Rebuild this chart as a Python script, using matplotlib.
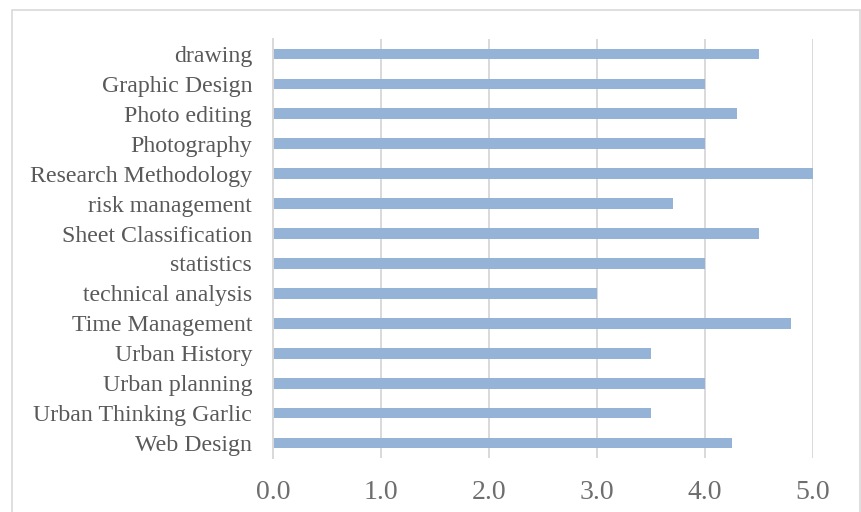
import matplotlib
matplotlib.use("Agg")
import matplotlib.pyplot as plt
from matplotlib.patches import Rectangle

categories = ["drawing", "Graphic Design", "Photo editing", "Photography",
              "Research Methodology", "risk management", "Sheet Classification",
              "statistics", "technical analysis", "Time Management",
              "Urban History", "Urban planning", "Urban Thinking Garlic", "Web Design"]
values = [4.5, 4.0, 4.3, 4.0, 5.0, 3.7, 4.5, 4.0, 3.0, 4.8, 3.5, 4.0, 3.5, 4.25]
xticks = [0, 1, 2, 3, 4, 5]
xtick_labels = ["0.0", "1.0", "2.0", "3.0", "4.0", "5.0"]

W, H = 862, 512
fig = plt.figure(figsize=(W / 100, H / 100), dpi=100)
fig.patch.set_facecolor("white")

# outer chart border
fig.patches.append(Rectangle((12 / W, -0.05), (860 - 12) / W, (H - 10) / H + 0.05,
                             transform=fig.transFigure, fill=False,
                             edgecolor="#D9D9D9", linewidth=1.2))

ax = fig.add_axes([273 / W, 54 / H, 540 / W, 419 / H])
n = len(categories)
ypos = list(range(n))
ax.barh(ypos, values, height=0.36, color="#95B3D6", zorder=3)
ax.set_ylim(n - 0.5, -0.5)
ax.set_xlim(0, 5)

ax.set_yticks(ypos)
ax.set_yticklabels(categories, family="Liberation Serif", fontsize=17.2, color="#595959")
ax.set_xticks(xticks)
ax.set_xticklabels(xtick_labels, family="Liberation Serif", fontsize=20,
                   color="#6E6E6E", fontweight="light")

ax.tick_params(axis="y", length=0, pad=15)
ax.tick_params(axis="x", length=0, pad=16)

ax.grid(axis="x", color="#D9D9D9", linewidth=1.4, zorder=0)
for side in ["top", "right", "bottom"]:
    ax.spines[side].set_visible(False)
ax.spines["left"].set_color("#D9D9D9")
ax.spines["left"].set_linewidth(1.4)
ax.spines["left"].set_zorder(4)

fig.savefig("out.png", dpi=100)
